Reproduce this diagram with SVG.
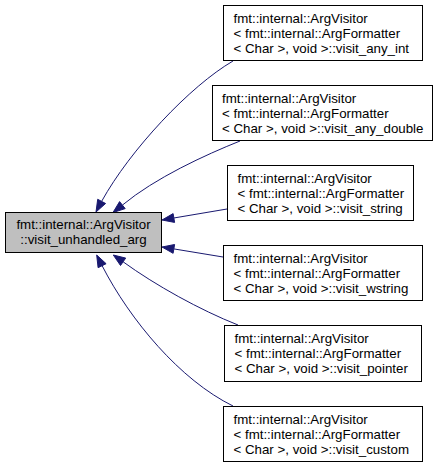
<svg xmlns="http://www.w3.org/2000/svg" width="440" height="465" viewBox="0 0 440 465">
<style>
.box{fill:#ffffff;stroke:#000000;stroke-width:1}
.main{fill:#bfbfbf;stroke:#000000;stroke-width:1}
text{font-family:"Liberation Sans",Arial,Helvetica,sans-serif;font-size:13.3px;fill:#000000}
.c{text-anchor:middle}
.edge{fill:none;stroke:#191970;stroke-width:1}
.head{fill:#191970;stroke:#191970;stroke-width:1}
</style>
<rect width="440" height="465" fill="#ffffff"/>
<g id="edges">
<path class="edge" d="M233,61 C190,86 130,150 101.6,201.4"/>
<polygon class="head" points="105.6,203.5 96,212 97.7,199.3"/>
<path class="edge" d="M240,141 C205,155 155,178 122.4,205.1"/>
<polygon class="head" points="125.2,208.6 113,212.5 119.6,201.6"/>
<path class="edge" d="M227,209 L173.8,218"/>
<polygon class="head" points="174.6,222.4 162,220 173.1,213.6"/>
<path class="edge" d="M223,257 L173.8,248.9"/>
<polygon class="head" points="173.1,253.3 162,247 174.6,244.5"/>
<path class="edge" d="M238,325 C200,310 155,285 123.1,261.8"/>
<polygon class="head" points="120.5,265.5 113.3,255 125.7,258.1"/>
<path class="edge" d="M233,406 C180,380 130,320 102.1,265.7"/>
<polygon class="head" points="98.1,267.7 96.7,255 106.1,263.7"/>
</g>
<g id="node_main">
<rect class="main" x="5.5" y="212.5" width="156" height="40"/>
<text class="c" x="83.5" y="228.5">fmt::internal::ArgVisitor</text>
<text class="c" x="83.5" y="243.5">::visit_unhandled_arg</text>
</g>
<g id="node_any_int">
<rect class="box" x="223.5" y="5.5" width="199" height="55"/>
<text x="233.5" y="23">fmt::internal::ArgVisitor</text>
<text x="233.5" y="38">&lt; fmt::internal::ArgFormatter</text>
<text x="233.5" y="53">&lt; Char &gt;, void &gt;::visit_any_int</text>
</g>
<g id="node_any_double">
<rect class="box" x="212.5" y="85.5" width="220" height="55"/>
<text x="222" y="103">fmt::internal::ArgVisitor</text>
<text x="222" y="118">&lt; fmt::internal::ArgFormatter</text>
<text x="222" y="133">&lt; Char &gt;, void &gt;::visit_any_double</text>
</g>
<g id="node_string">
<rect class="box" x="227.5" y="165.5" width="186" height="55"/>
<text x="237.5" y="183">fmt::internal::ArgVisitor</text>
<text x="237.5" y="198">&lt; fmt::internal::ArgFormatter</text>
<text x="237.5" y="213">&lt; Char &gt;, void &gt;::visit_string</text>
</g>
<g id="node_wstring">
<rect class="box" x="223.5" y="245.5" width="199" height="55"/>
<text x="233.5" y="263">fmt::internal::ArgVisitor</text>
<text x="233.5" y="278">&lt; fmt::internal::ArgFormatter</text>
<text x="233.5" y="293">&lt; Char &gt;, void &gt;::visit_wstring</text>
</g>
<g id="node_pointer">
<rect class="box" x="224.5" y="325.5" width="197" height="56"/>
<text x="234.5" y="343">fmt::internal::ArgVisitor</text>
<text x="234.5" y="358">&lt; fmt::internal::ArgFormatter</text>
<text x="234.5" y="373">&lt; Char &gt;, void &gt;::visit_pointer</text>
</g>
<g id="node_custom">
<rect class="box" x="223.5" y="406.5" width="199" height="55"/>
<text x="233.5" y="424">fmt::internal::ArgVisitor</text>
<text x="233.5" y="439">&lt; fmt::internal::ArgFormatter</text>
<text x="233.5" y="454">&lt; Char &gt;, void &gt;::visit_custom</text>
</g>
</svg>
